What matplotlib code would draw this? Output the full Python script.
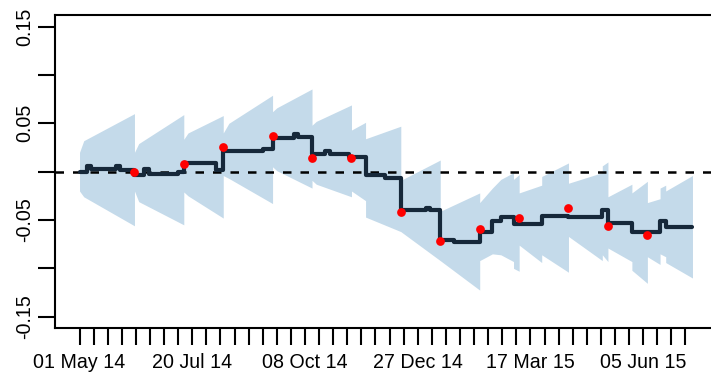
import numpy as np
import matplotlib
matplotlib.use("Agg")
import matplotlib.pyplot as plt
import matplotlib.dates as mdates

plt.rcParams["font.family"] = ["Liberation Sans", "DejaVu Sans"]

# Daily nowcast, stored as step changes (value holds until the next date)
nowcast_dates = [
    "2014-05-01", "2014-05-06", "2014-05-09", "2014-05-27", "2014-05-30",
    "2014-06-09", "2014-06-16", "2014-06-19", "2014-07-10", "2014-07-14",
    "2014-08-06", "2014-08-11", "2014-09-08", "2014-09-15", "2014-09-30",
    "2014-10-03", "2014-10-13", "2014-10-22", "2014-10-26", "2014-11-08",
    "2014-11-20", "2014-12-04", "2014-12-15", "2015-01-02", "2015-01-05",
    "2015-01-12", "2015-01-22", "2015-02-09", "2015-02-18", "2015-02-24",
    "2015-03-05", "2015-03-25", "2015-04-13", "2015-05-07", "2015-05-11",
    "2015-05-28", "2015-06-17", "2015-06-21", "2015-07-10",
]
nowcast_values = [
    0.000, 0.006, 0.003, 0.006, 0.002,
    -0.003, 0.003, -0.002, 0.000, 0.009,
    0.002, 0.021, 0.023, 0.035, 0.039,
    0.036, 0.018, 0.021, 0.018, 0.015,
    -0.0035, -0.0065, -0.040, -0.038, -0.040,
    -0.071, -0.0725, -0.062, -0.051, -0.047,
    -0.054, -0.0455, -0.0465, -0.040, -0.053,
    -0.062, -0.051, -0.057, -0.057,
]

# Official releases
release_dates = [
    "2014-06-09", "2014-07-14", "2014-08-11", "2014-09-15", "2014-10-13",
    "2014-11-10", "2014-12-15", "2015-01-12", "2015-02-09", "2015-03-09",
    "2015-04-13", "2015-05-11", "2015-06-08",
]
release_values = [
    0.000, 0.008, 0.0255, 0.037, 0.014,
    0.014, -0.0415, -0.0715, -0.059, -0.048,
    -0.0375, -0.056, -0.0655,
]

# Uncertainty band vertices (repeated dates mark vertical jumps)
band_dates = [
    "2014-05-01", "2014-05-04", "2014-06-09",
    "2014-06-09", "2014-06-12", "2014-07-14",
    "2014-07-14", "2014-07-17", "2014-08-11",
    "2014-08-11", "2014-08-15", "2014-09-15",
    "2014-09-15", "2014-09-18", "2014-10-13",
    "2014-10-13", "2014-10-16", "2014-11-10",
    "2014-11-10", "2014-11-20", "2014-11-20", "2014-12-15",
    "2014-12-15", "2015-01-12",
    "2015-01-12", "2015-02-09",
    "2015-02-09", "2015-02-18", "2015-02-24", "2015-03-05", "2015-03-05", "2015-03-09",
    "2015-03-09", "2015-03-25", "2015-03-25", "2015-04-13",
    "2015-04-13", "2015-05-07", "2015-05-07", "2015-05-11",
    "2015-05-11", "2015-05-28", "2015-05-28", "2015-06-08",
    "2015-06-08", "2015-06-17", "2015-06-17", "2015-06-21", "2015-06-21", "2015-07-10",
]
band_upper = [
    0.020, 0.032, 0.060,
    0.020, 0.029, 0.059,
    0.0335, 0.040, 0.058,
    0.040, 0.050, 0.079,
    0.062, 0.066, 0.0855,
    0.048, 0.052, 0.069,
    0.043, 0.051, 0.034, 0.047,
    -0.009, 0.012,
    -0.041, -0.022,
    -0.032, -0.017, -0.008, -0.001, -0.008, -0.003,
    -0.022, -0.014, -0.005, 0.009,
    -0.012, -0.001, 0.006, 0.010,
    -0.026, -0.013, -0.022, -0.010,
    -0.032, -0.028, -0.017, -0.014, -0.020, -0.004,
]
band_lower = [
    -0.020, -0.026, -0.056,
    -0.020, -0.031, -0.055,
    -0.021, -0.025, -0.048,
    -0.004, -0.007, -0.033,
    0.005, 0.001, -0.017,
    -0.009, -0.013, -0.026,
    -0.020, -0.030, -0.047, -0.062,
    -0.062, -0.092,
    -0.092, -0.1225,
    -0.092, -0.085, -0.086, -0.093, -0.100, -0.103,
    -0.076, -0.094, -0.086, -0.104,
    -0.067, -0.092, -0.086, -0.093,
    -0.079, -0.093, -0.102, -0.1155,
    -0.088, -0.096, -0.085, -0.088, -0.094, -0.110,
]

# Axis ticks: one every 10 days, labelled every 8th
tick_start = "2014-05-01"
tick_count = 44
tick_step_days = 10
x_tick_labels = ["01 May 14", "20 Jul 14", "08 Oct 14", "27 Dec 14", "17 Mar 15", "05 Jun 15"]
label_every = 8
y_ticks = [-0.15, -0.10, -0.05, 0.0, 0.05, 0.10, 0.15]
y_tick_labels = ["-0.15", "", "-0.05", "", "0.05", "", "0.15"]


def to_num(dates):
    return mdates.date2num(np.array(dates, dtype="datetime64[D]"))


line_x = to_num(nowcast_dates)
rel_x = to_num(release_dates)
band_x = to_num(band_dates)

fig = plt.figure(figsize=(7.11, 3.78), dpi=100)
ax = fig.add_axes([55 / 711, (378 - 328.3) / 378, 662 / 711, (328.3 - 15) / 378])

ax.fill_between(band_x, band_lower, band_upper, color="#C4DAEA", lw=0, zorder=1)
ax.axhline(0, color="black", lw=1.8, ls=(0, (3.4, 3.6)), zorder=2)
ax.plot(line_x, nowcast_values, drawstyle="steps-post", color="#16283A", lw=3.0,
        solid_capstyle="round", solid_joinstyle="round", zorder=3)
ax.plot(rel_x, release_values, "o", color="#FF0000", ms=6.3, mec="none", zorder=4)

span = line_x[-1] - line_x[0]
pad = 0.04 * span
ax.set_xlim(line_x[0] - pad, line_x[-1] + pad)
ax.set_ylim(-0.162, 0.162)

tick_pos = to_num([tick_start])[0] + np.arange(tick_count) * tick_step_days
labels = [""] * tick_count
for i, lab in enumerate(x_tick_labels):
    labels[i * label_every] = lab
ax.set_xticks(tick_pos)
ax.set_xticklabels(labels)
ax.set_yticks(y_ticks)
ax.set_yticklabels(y_tick_labels)

for s in ax.spines.values():
    s.set_linewidth(1.5)
    s.set_color("black")

ax.tick_params(axis="both", direction="out", length=12.5, width=1.5, color="black",
               labelsize=14.1, labelcolor="black")
ax.tick_params(axis="x", pad=5)
ax.tick_params(axis="y", pad=2.5)
for lab in ax.get_yticklabels():
    lab.set_rotation(90)
    lab.set_va("center")

fig.savefig("out.png", dpi=100)
